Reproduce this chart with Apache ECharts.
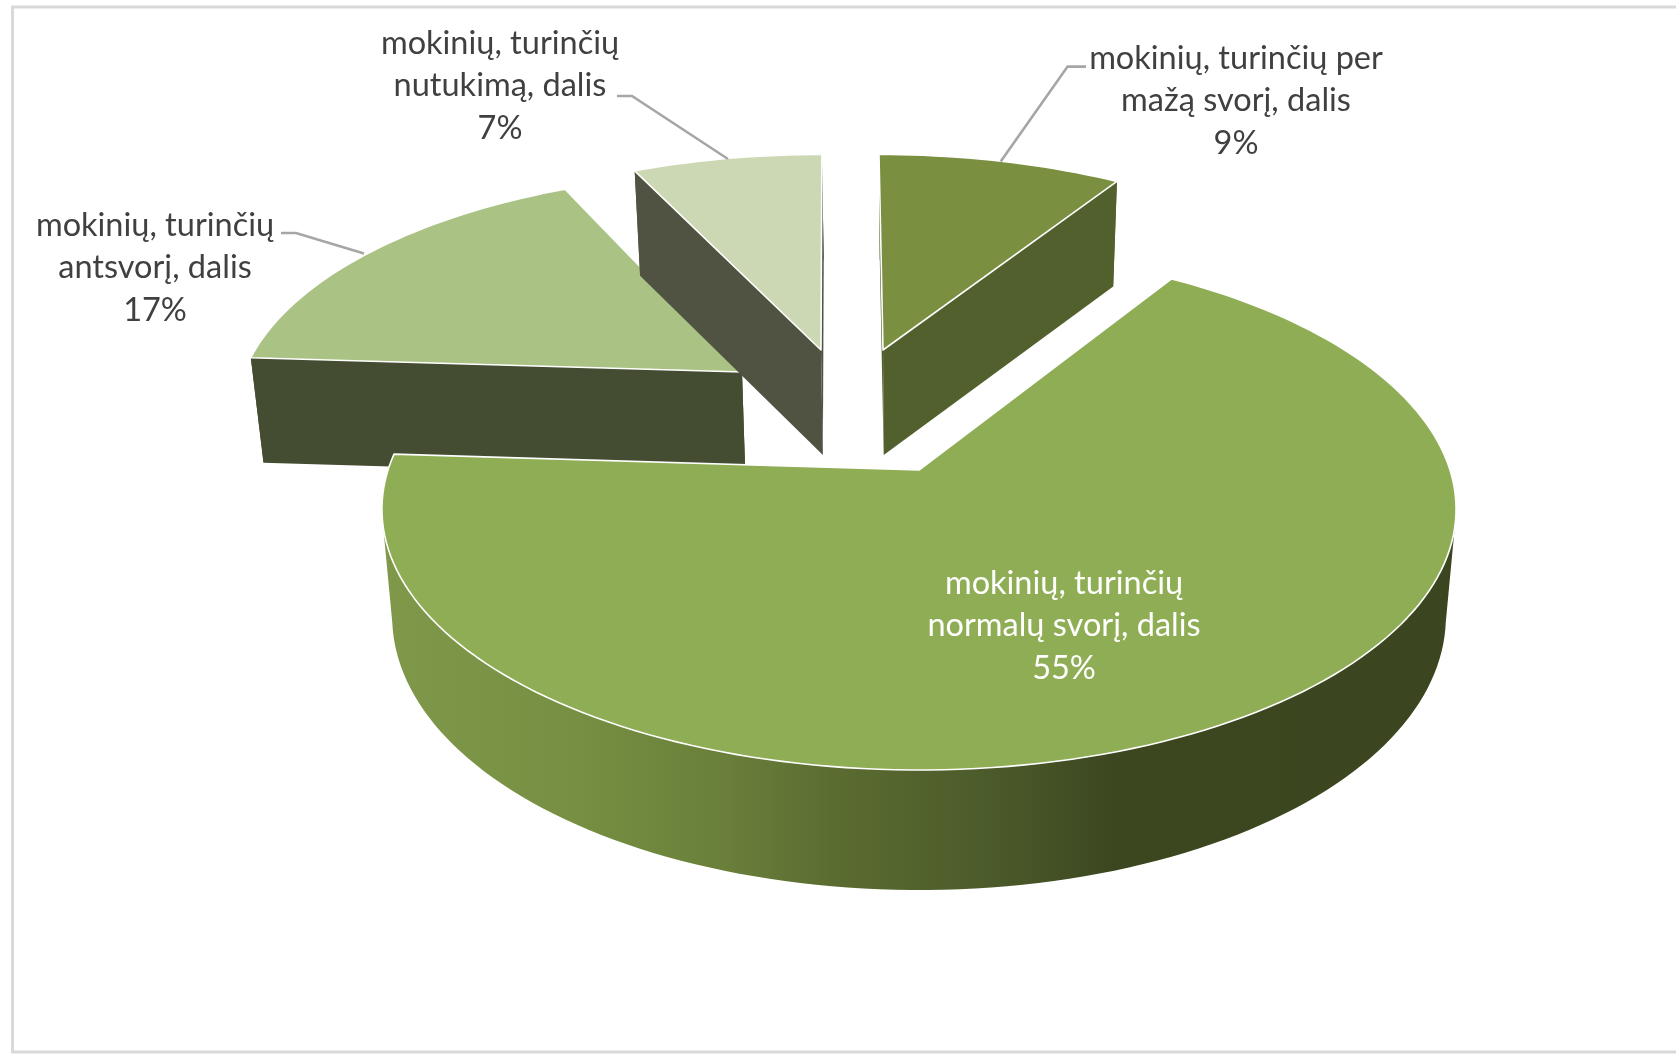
<!DOCTYPE html>
<html>
<head>
<meta charset="utf-8">
<script src="https://cdn.jsdelivr.net/npm/echarts@6/dist/echarts.min.js"></script>
<style>html,body{margin:0;padding:0;background:#fff}#c{width:1676px;height:1055px}</style>
</head>
<body>
<div id="c"></div>
<script>
// Data
const categories = ['mokinių, turinčių per mažą svorį, dalis','mokinių, turinčių normalų svorį, dalis','mokinių, turinčių antsvorį, dalis','mokinių, turinčių nutukimą, dalis'];
const labelLines = [['mokinių, turinčių per','mažą svorį, dalis'],['mokinių, turinčių','normalų svorį, dalis'],['mokinių, turinčių','antsvorį, dalis'],['mokinių, turinčių','nutukimą, dalis']];
const labelPercents = [9, 55, 17, 7];
const sliceShares = [9, 67, 17, 7];   // angular share actually drawn

// Styling and layout of the 3D view
const topColors = ['#7a8f40','#8fad54','#aac283','#ccd7b4'];
const sideColors = ['#52602d','#8fad54','#444c32','#515342'];
const zOrder = [3, 4, 1, 2];
const apexX = [883, 919, 742, 821];
const apexY = [350, 470, 372, 350];
const radiusX = [0.94, 1, 0.937, 0.94];
const radiusY = [0.882, 1, 0.90, 0.882];
const skewX = [-4.6, 0, 12, 1];
const labelX = [1236, 1064, 155, 500];
const labelY = [101, 626, 268, 86];
const textColors = ['#404040','#ffffff','#404040','#404040'];
const leaders = [[[1086,66.6],[1067.6,66.6],[1000.7,161.6]], null, [[281,233],[296,233],[364,253.5]], [[617,96],[632,96],[728,159]]];
const CX = 920, A = 531, B = 255, K = 0.15, DEPTH = 105, FRONT_DEPTH = 15, BOTTOM_SHRINK = 0.981, LINE_H = 42.2;

function project(i, X, Y, bottom) {
  const w = 1 + K * Y;
  let x = apexX[i] + (A * radiusX[i] * X + skewX[i] * Y) / w, y = apexY[i] - B * radiusY[i] * Y / w;
  if (bottom) {
    x = CX + (x - CX) * BOTTOM_SHRINK;
    y += Y < 0 ? DEPTH - FRONT_DEPTH * Y : DEPTH;
  }
  return [x, y];
}

const total = sliceShares.reduce((a, b) => a + b, 0);
const starts = []; let acc = 0;
sliceShares.forEach(v => { starts.push(acc); acc += v; });

function rimPts(i, bottom, frontOnly) {
  const a0 = starts[i] / total * 2 * Math.PI, a1 = (starts[i] + sliceShares[i]) / total * 2 * Math.PI;
  const n = Math.ceil((a1 - a0) / (Math.PI / 120));
  const pts = [];
  for (let j = 0; j <= n; j++) {
    const t = a0 + (a1 - a0) * j / n;
    if (frontOnly && Math.cos(t) > -K) continue;
    pts.push(project(i, Math.sin(t), Math.cos(t), bottom));
  }
  return pts;
}

function renderItem(params, api) {
  const i = params.dataIndex;
  const z = zOrder[i] * 10;
  const rim = rimPts(i, false, false), rimB = rimPts(i, true, false);
  const apex = project(i, 0, 0, false), apexB = project(i, 0, 0, true);
  const children = [];
  const poly = (points, style, dz) => children.push({type:'polygon', z2:z + dz, shape:{points}, style});
  if (i === 1) {
    const wallFill = new echarts.graphic.LinearGradient(0, 0, 1, 0, [
      {offset:0, color:'#80984a'},{offset:0.18, color:'#778f42'},{offset:0.32, color:'#697f3a'},
      {offset:0.42, color:'#5b6c31'},{offset:0.57, color:'#4b5a2a'},{offset:0.68, color:'#3c4720'},{offset:1, color:'#3b4620'}
    ]);
    poly(rimPts(i, false, true).concat(rimPts(i, true, true).reverse()), {fill:wallFill}, 1);
  } else {
    poly([apex, rim[0], rimB[0], apexB], {fill:sideColors[i]}, 0);
    poly([apex, rim[rim.length-1], rimB[rimB.length-1], apexB], {fill:sideColors[i]}, 0);
    poly(rim.concat(rimB.slice().reverse()), {fill:sideColors[i]}, 1);
  }
  poly([apex].concat(rim), {fill:topColors[i], stroke:'#ffffff', lineWidth:1.6, lineJoin:'round'}, 2);
  if (leaders[i]) {
    children.push({type:'polyline', z2:100, shape:{points:leaders[i]}, style:{fill:null, stroke:'#a6a6a6', lineWidth:2.6}});
  }
  const lines = labelLines[i].concat([labelPercents[i] + '%']);
  lines.forEach((s, j) => {
    children.push({type:'text', z2:101, style:{
      x: labelX[i], y: labelY[i] + (j - 1) * LINE_H, text: s, fill: textColors[i],
      font: '32.5px Lato, "Open Sans", sans-serif', textAlign:'center', textVerticalAlign:'middle'
    }});
  });
  return {type:'group', children};
}

const chart = echarts.init(document.getElementById('c'), null, {renderer:'canvas'});
chart.setOption({
  backgroundColor:'#ffffff',
  animation:false,
  graphic:[{type:'rect', silent:true, shape:{x:12.5, y:7, width:1720, height:1045}, style:{fill:'#ffffff', stroke:'#d9d9d9', lineWidth:3}}],
  series:[{
    type:'custom', coordinateSystem:'none', clip:false, silent:true,
    data: sliceShares.map((v, i) => ({name:categories[i], value:v})),
    renderItem
  }]
});
</script>
</body>
</html>
